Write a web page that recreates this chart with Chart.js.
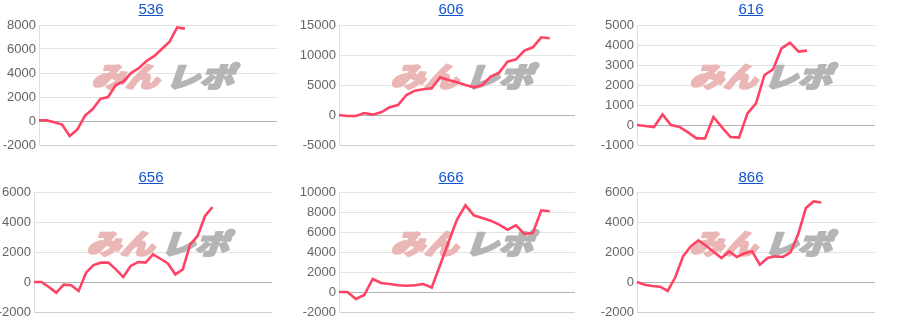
<!DOCTYPE html>
<html>
  <head>
    <meta charset="utf-8">
    <script src="https://cdn.jsdelivr.net/npm/chart.js@4.4.1/dist/chart.umd.min.js"></script>
    <style>
      body { margin: 0; background: #fff; }
      .cell { position: absolute; width: 300px; height: 166px; }
      .cell a {
        position: absolute; top: 0; left: 0; width: 302px; text-align: center;
        font: 15px "Liberation Sans", Arial, sans-serif; color: #1155cc;
      }
      .cell canvas { position: absolute; left: 0; top: 0; }
    </style>
  </head>

  <body>
    <div id="grid"></div>
    <script>
      // machine numbers (chart titles)
      const titles = ['536', '606', '616', '656', '666', '866'];
      // how many x slots each chart has (days)
      const slotCounts = [32, 29, 29, 33, 29, 32];

      const s536 = [50, 50, -100, -300, -1250, -700, 450, 1000, 1850, 2000, 3000, 3300, 4000, 4400, 5000, 5400, 6000, 6600, 7800, 7700];
      const s606 = [0, -170, -170, 330, 60, 440, 1280, 1670, 3330, 4060, 4280, 4450, 6280, 5840, 5450, 5000, 4610, 5000, 6390, 7060, 8890, 9280, 10730, 11280, 12950, 12790];
      const s616 = [0, -50, -100, 530, 0, -100, -370, -670, -670, 400, -120, -600, -630, 580, 1080, 2500, 2780, 3830, 4120, 3670, 3720];
      const s656 = [0, 0, -330, -710, -180, -220, -600, 620, 1130, 1290, 1290, 840, 330, 1070, 1330, 1290, 1840, 1550, 1240, 510, 840, 2510, 3070, 4400, 5000];
      const s666 = [0, 0, -700, -300, 1300, 900, 800, 670, 630, 670, 800, 450, 2700, 5000, 7240, 8670, 7670, 7400, 7130, 6730, 6230, 6670, 5800, 5900, 8170, 8070];
      const s866 = [0, -180, -270, -310, -600, 330, 1710, 2380, 2780, 2420, 2000, 1600, 2040, 1670, 1910, 2040, 1150, 1600, 1710, 1670, 1980, 3200, 4930, 5370, 5300];
      const series = [s536, s606, s616, s656, s666, s866];

      // y axis ranges: [min, max, step]
      const yRanges = [[-2000, 8000, 2000], [-5000, 15000, 5000], [-1000, 5000, 1000], [-2000, 6000, 2000], [-2000, 10000, 2000], [-2000, 6000, 2000]];

      // plot edges inside each 300px cell
      const plotLeft = [39, 39, 37, 34, 39, 37];
      const plotRight = [277, 275, 275, 272, 275, 275];

      const watermark = {
        id: 'watermark',
        beforeDatasetsDraw(chart) {
          const { ctx, chartArea } = chart;
          const cx = (chartArea.left + chartArea.right) / 2 + 8;
          const cy = chartArea.top + 52;
          ctx.save();
          ctx.font = '900 32px "Noto Sans CJK JP"';
          const a = 'みん', b = 'レポ';
          const wa = ctx.measureText(a).width, wb = ctx.measureText(b).width;
          const gap = 6;
          const k = 142 / (wa + wb + gap);
          ctx.translate(cx, cy);
          ctx.transform(k, 0, -0.3, 0.86, 0, 0);
          ctx.textBaseline = 'middle';
          ctx.lineJoin = 'round';
          ctx.lineWidth = 2.5;
          const x0 = -(wa + wb + gap) / 2;
          ctx.fillStyle = ctx.strokeStyle = '#ebb6b6';
          ctx.fillText(a, x0, 0);
          ctx.strokeText(a, x0, 0);
          ctx.fillStyle = ctx.strokeStyle = '#b5b5b5';
          ctx.fillText(b, x0 + wa + gap, 0);
          ctx.strokeText(b, x0 + wa + gap, 0);
          ctx.restore();
        },
      };

      const grid = document.getElementById('grid');

      titles.forEach((t, i) => {
        const col = i % 3, row = Math.floor(i / 3);
        const cell = document.createElement('div');
        cell.className = 'cell';
        cell.style.left = col * 300 + 'px';
        cell.style.top = row * 166 + 'px';
        const link = document.createElement('a');
        link.href = '#';
        link.textContent = t;
        if (row === 1) link.style.top = '2px';
        const canvas = document.createElement('canvas');
        canvas.width = 300;
        canvas.height = 166;
        cell.appendChild(canvas);
        cell.appendChild(link);
        grid.appendChild(cell);

        const labels = Array.from({ length: slotCounts[i] }, (_, d) => String(d + 1));
        const [yMin, yMax, yStep] = yRanges[i];
        const top = row === 0 ? 25 : 26;
        const bottom = row === 0 ? 21 : 20;

        new Chart(canvas.getContext('2d'), {
          type: 'line',
          data: {
            labels: labels,
            datasets: [
              {
                data: series[i],
                borderColor: '#ff4365',
                borderWidth: 2.6,
                pointRadius: 0,
                tension: 0,
                fill: false,
              },
            ],
          },
          options: {
            responsive: false,
            animation: false,
            layout: {
              padding: { top: top, bottom: bottom, left: 0, right: 300 - plotRight[i] },
            },
            plugins: {
              legend: { display: false },
              tooltip: { enabled: false },
            },
            scales: {
              x: { display: false },
              y: {
                min: yMin,
                max: yMax,
                afterFit: (s) => { s.width = plotLeft[i]; },
                ticks: {
                  stepSize: yStep,
                  padding: 3,
                  color: '#666',
                  font: { family: '"Liberation Sans", Arial', size: 13 },
                  callback: (v) => String(v),
                },
                grid: {
                  drawTicks: false,
                  color: (c) => (c.tick && c.tick.value === 0 ? '#b4b4b4' : c.index === 0 ? '#cfcfcf' : '#e3e3e3'),
                  lineWidth: 1,
                },
                border: { color: '#e0e0e0' },
              },
            },
          },
          plugins: [watermark],
        });
      });
    </script>
  </body>
</html>
